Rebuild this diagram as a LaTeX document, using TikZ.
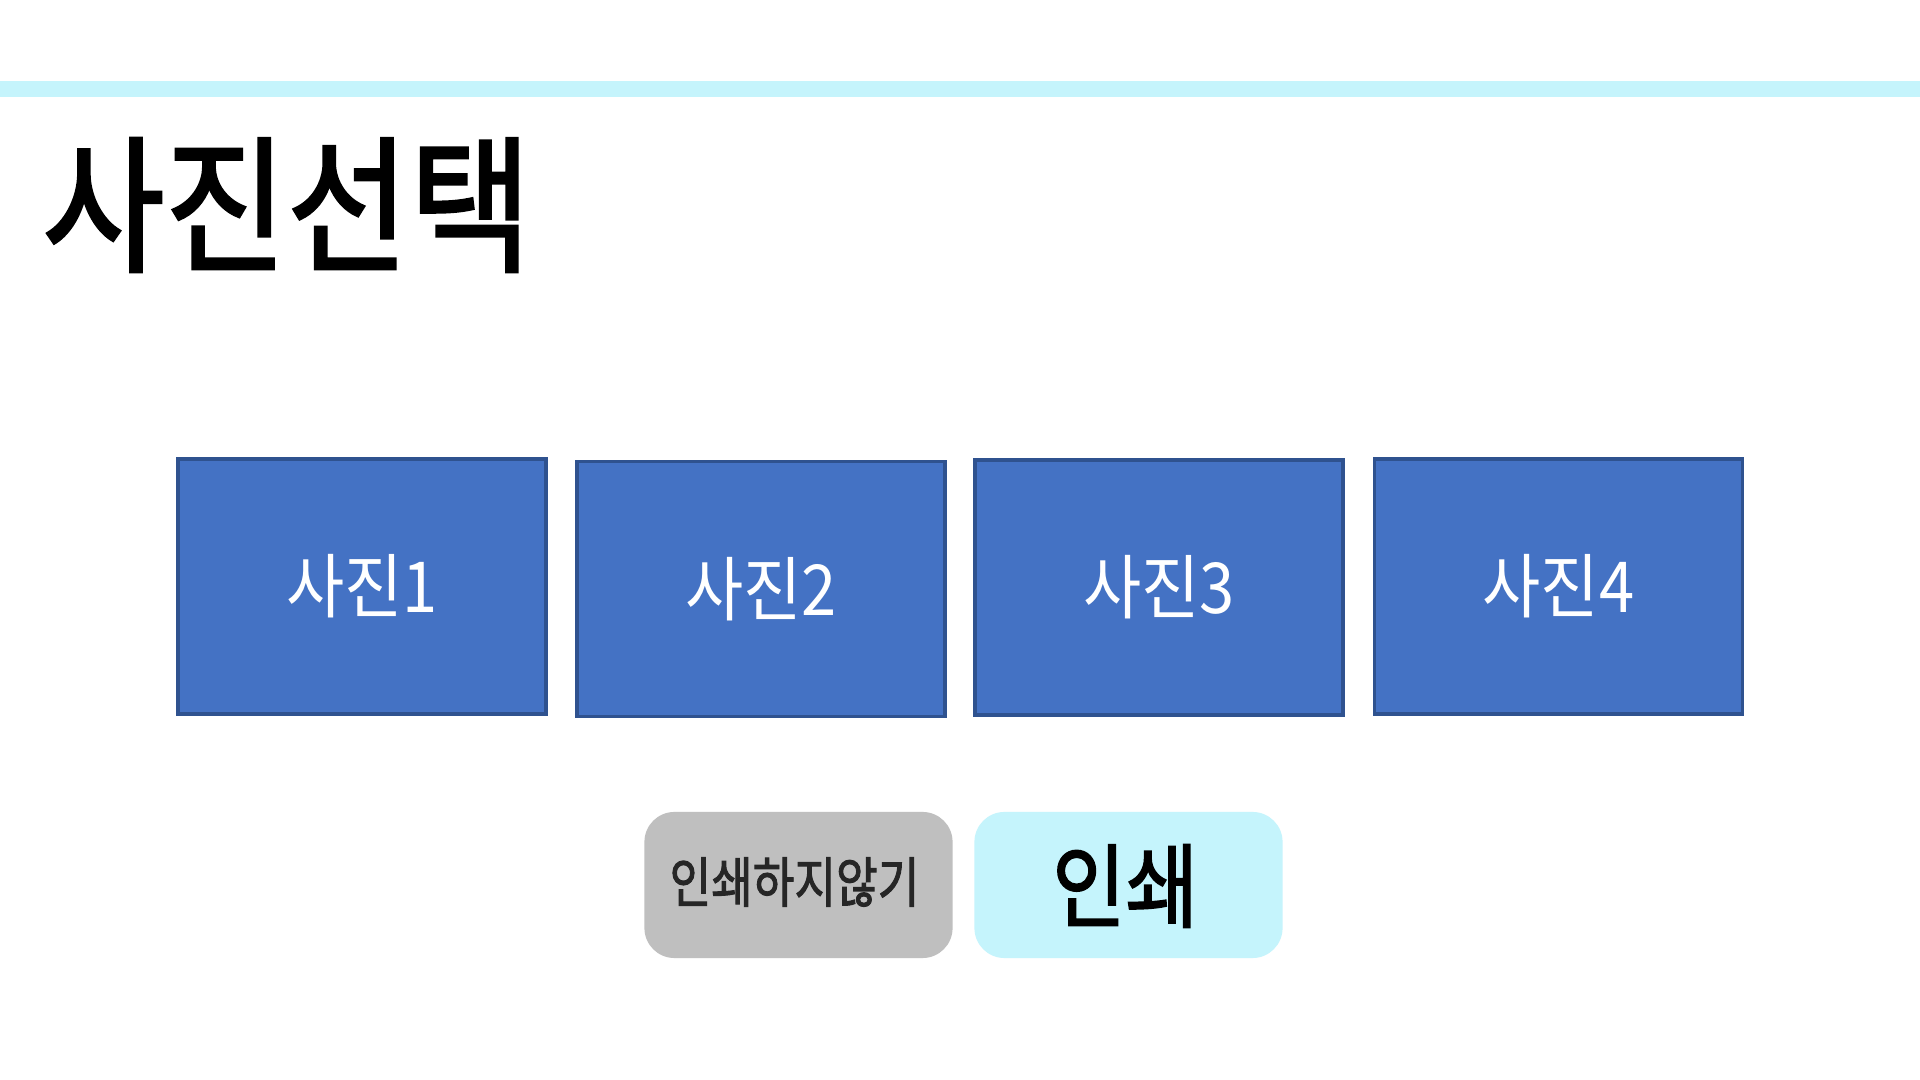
\documentclass[tikz,border=0pt]{standalone}
\usepackage{graphicx}
\usepackage{fontspec}
\setmainfont{Noto Sans CJK KR}
\newfontfamily\krfb{Noto Sans CJK KR}[FakeBold=2]
\definecolor{barcyan}{HTML}{C5F4FC}
\definecolor{photofill}{HTML}{4472C4}
\definecolor{photoline}{HTML}{2F528F}
\definecolor{btngray}{HTML}{BFBFBF}
\definecolor{btntext}{HTML}{262626}
\tikzset{
  photo/.style={draw=photoline, fill=photofill, line width=1pt,
    minimum width=3.68cm, minimum height=2.55cm, inner sep=0pt,
    text=white, font=\fontsize{20}{24}\selectfont},
  btn/.style={rounded corners=0.3cm, minimum width=3.08cm, minimum height=1.46cm, inner sep=0pt},
  label/.style={inner sep=0pt},
}
\begin{document}
\begin{tikzpicture}[x=0.01cm,y=-0.01cm]
\useasboundingbox (0,0) rectangle (1920,1080);
\fill[white] (0,0) rectangle (1920,1080);
\fill[barcyan] (0,81) rectangle (1920,97);
\node[label, font=\krfb\fontsize{42}{50}\selectfont] (title) at (287,205) {\scalebox{0.9}[1]{사진선택}};
\node[photo] (p1) at (362,586.5) {\scalebox{0.9}[1]{사진1}};
\node[photo] (p2) at (761,589) {\scalebox{0.9}[1]{사진2}};
\node[photo] (p3) at (1159,587.5) {\scalebox{0.9}[1]{사진3}};
\node[photo] (p4) at (1558.5,586.5) {\scalebox{0.9}[1]{사진4}};
\node[btn, fill=btngray] (no) at (798.5,885) {};
\node[label, text=btntext, font=\krfb\fontsize{15.5}{18}\selectfont] (notext) at (794.5,882) {\scalebox{0.83}[1]{인쇄하지않기}};
\node[btn, fill=barcyan] (yes) at (1128.5,885) {};
\node[label, text=black, font=\krfb\fontsize{26}{30}\selectfont] (yestext) at (1125.5,886) {\scalebox{0.87}[1]{인쇄}};
\end{tikzpicture}
\end{document}
